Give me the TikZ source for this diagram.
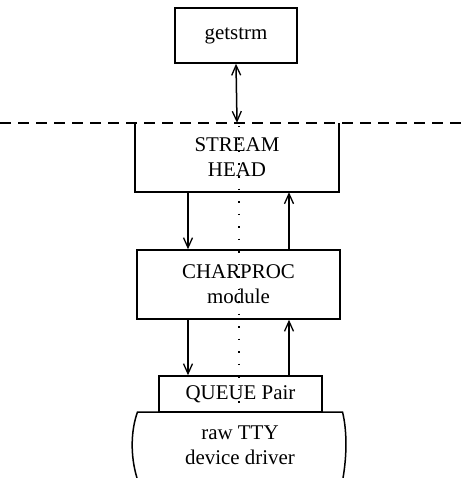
\documentclass[tikz,border=0pt]{standalone}
\usepackage{fontspec}
\setmainfont{Liberation Serif}
\usetikzlibrary{arrows.meta,calc}
\begin{document}
\begin{tikzpicture}[x=1bp,y=-1bp,
  every node/.style={font=\fontsize{21}{25}\selectfont, align=center, inner sep=0pt},
  boxed/.style={draw, line width=1.5bp, rectangle},
  ln/.style={line width=1.5bp},
  arr/.style={ln, -{Straight Barb[length=10bp,width=9bp,line width=1.3bp]}},
  darr/.style={ln, {Straight Barb[length=10bp,width=9bp,line width=1.3bp]}-{Straight Barb[length=10bp,width=9bp,line width=1.3bp]}},
  dashline/.style={line width=1.3bp, dash pattern=on 11bp off 7bp},
  dotline/.style={line width=1.5bp, dash pattern=on 1.5bp off 11bp}]
\useasboundingbox (0,0) rectangle (462,478);
% nodes
\node[boxed, minimum width=122bp, minimum height=55bp] (gs) at (236,35.5) {getstrm};
\node[minimum width=204bp, minimum height=69bp] (sh) at (237,157.5) {STREAM\\HEAD};
\node[boxed, minimum width=203bp, minimum height=69bp] (cp) at (238.5,284.5) {CHARPROC\\module};
\node[boxed, minimum width=163bp, minimum height=36bp] (qp) at (240.5,394) {QUEUE Pair};
\node[minimum width=206bp, minimum height=66bp] (tty) at (240,445) {raw TTY\\device driver};
% boundary line
\coordinate (bl) at (0,123);
\coordinate (br) at (462,123);
\draw[dashline] (bl) -- (br);
% stream head box (top is the dashed boundary)
\draw[ln] (sh.north west) -- (sh.south west) -- (sh.south east) -- (sh.north east);
% driver outline
\coordinate (tl) at (137.5,412);
\coordinate (tr) at (342.5,412);
\coordinate (bL) at (137,478);
\coordinate (bR) at (343,478);
\draw[ln] (bL) .. controls (130,455) and (131,430) .. (tl) -- (tr) .. controls (347,430) and (347,455) .. (bR);
% dotted centre line
\coordinate (dt) at (239,126);
\coordinate (db) at (239,410);
\draw[dotline] (dt) -- (db);
% connectors
\coordinate (dl) at (188,0);
\coordinate (ul) at (289,0);
\draw[darr] (gs.south) -- (sh.north);
\draw[arr] (sh.south -| dl) -- (cp.north -| dl);
\draw[arr] (cp.north -| ul) -- (sh.south -| ul);
\draw[arr] (cp.south -| dl) -- (qp.north -| dl);
\draw[arr] (qp.north -| ul) -- (cp.south -| ul);
\end{tikzpicture}
\end{document}
